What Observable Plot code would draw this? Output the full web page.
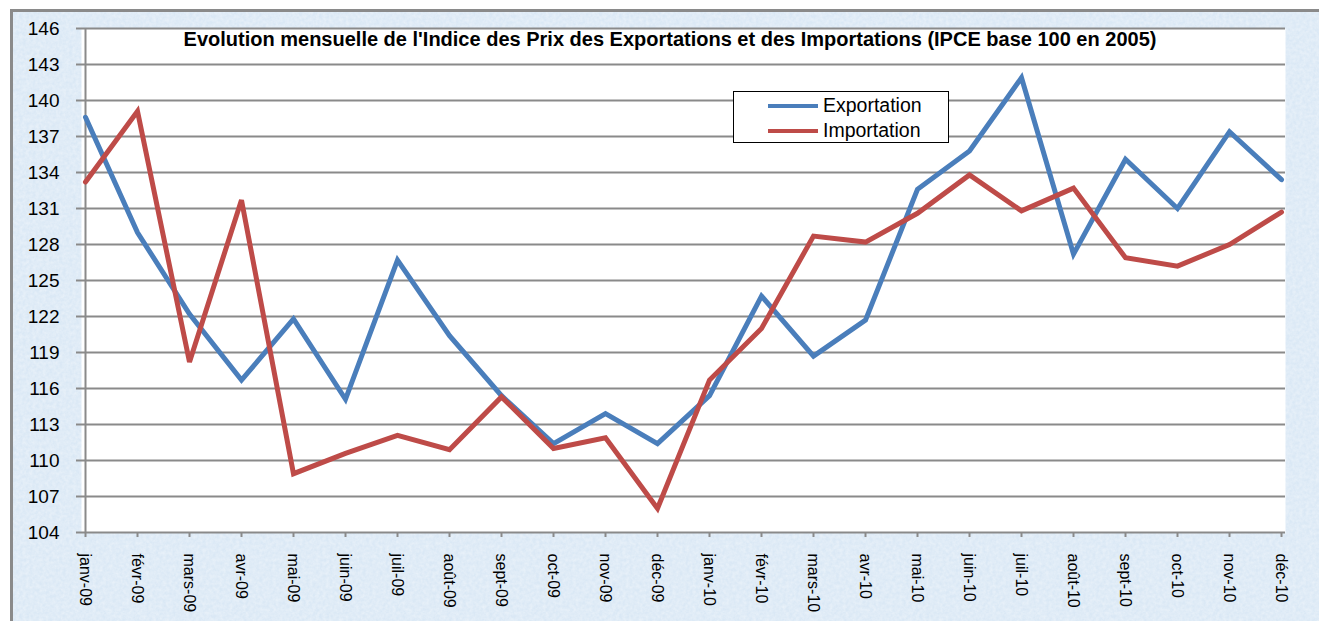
<!DOCTYPE html>
<html><head><meta charset="utf-8">
<script src="https://cdn.jsdelivr.net/npm/d3@7"></script>
<script src="https://cdn.jsdelivr.net/npm/@observablehq/plot@0.6"></script>
<style>
body{margin:0;background:#fff;font-family:"Liberation Sans",Arial,sans-serif;}
#wrap{position:relative;width:1319px;height:621px;overflow:hidden;}
#bg{position:absolute;left:10px;top:9px;right:0;bottom:0;border-top:3px solid #8a8a8a;border-left:3px solid #8a8a8a;background:#dae8f5;}
#bg::after{content:"";position:absolute;inset:0;opacity:0.45;background-image:url("data:image/svg+xml;utf8,<svg xmlns='http://www.w3.org/2000/svg' width='300' height='300'><filter id='n'><feTurbulence type='fractalNoise' baseFrequency='0.3' numOctaves='3'/><feColorMatrix values='0 0 0 0 1  0 0 0 0 1  0 0 0 0 1  0 0 0 1.3 -0.3'/></filter><rect width='300' height='300' filter='url(%23n)'/></svg>");}
#chart{position:absolute;left:0;top:0;width:1319px;height:621px;}
#chart svg{max-width:none;}
#title{position:absolute;left:0;width:1340px;top:29px;text-align:center;font-weight:bold;font-size:20px;line-height:1;color:#000;white-space:nowrap;}
#legend{position:absolute;left:733px;top:91px;width:214px;height:50px;border:1.5px solid #000;background:#fff;}
.li{position:absolute;left:34px;height:20px;font-size:19.5px;line-height:20px;color:#000;}
.li span{display:inline-block;width:50px;height:3.5px;vertical-align:middle;margin-right:5px;position:relative;top:-1px;}
</style></head><body>
<div id="wrap"><div id="bg"></div><div id="chart"></div>
<div id="title"></div>
<div id="legend"></div>
</div>
<script>
const months = ["janv-09","févr-09","mars-09","avr-09","mai-09","juin-09","juil-09","août-09","sept-09","oct-09","nov-09","déc-09",
"janv-10","févr-10","mars-10","avr-10","mai-10","juin-10","juil-10","août-10","sept-10","oct-10","nov-10","déc-10"];
const exportation = [138.6,129.0,122.2,116.7,121.8,115.1,126.7,120.4,115.4,111.4,113.9,111.4,
115.4,123.7,118.7,121.7,132.6,135.8,141.9,127.2,135.1,131.0,137.4,133.4];
const importation = [133.2,139.1,118.2,131.7,108.9,110.6,112.1,110.9,115.3,111.0,111.9,106.0,
116.7,121.0,128.7,128.2,130.6,133.8,130.8,132.7,126.9,126.2,128.0,130.7];
const yTicks = [104,107,110,113,116,119,122,125,128,131,134,137,140,143,146];
const seriesNames = ["Exportation","Importation"];
const seriesColors = ["#4a7ebb","#be4b48"];
const titleText = "Evolution mensuelle de l'Indice des Prix des Exportations et des Importations (IPCE base 100 en 2005)";

const data = [];
[exportation, importation].forEach((vals, s) => {
  vals.forEach((v, i) => data.push({month: months[i], value: v, serie: seriesNames[s]}));
});

const chart = Plot.plot({
  width: 1319, height: 621,
  marginLeft: 81, marginRight: 34, marginTop: 28, marginBottom: 89,
  style: {background: "transparent", fontFamily: "'Liberation Sans', Arial, sans-serif", overflow: "visible"},
  x: {type: "point", domain: months, padding: 0},
  y: {domain: [104, 146]},
  color: {domain: seriesNames, range: seriesColors},
  marks: [
    Plot.frame({fill: "white", stroke: null}),
    Plot.ruleY(yTicks, {stroke: "#8a8a8a", strokeWidth: 2}),
    Plot.ruleX([months[0]], {stroke: "#8a8a8a", strokeWidth: 2}),
    Plot.axisY({ticks: yTicks, tickSize: 5, tickPadding: 17, fontSize: 19, stroke: "#8a8a8a", strokeWidth: 2, fill: "#000", label: null}),
    Plot.axisX({tickRotate: 90, tickSize: 5, tickPadding: 16, fontSize: 16, stroke: "#8a8a8a", strokeWidth: 2, fill: "#000", label: null, style: "letter-spacing:-0.6px"}),
    Plot.line(data, {x: "month", y: "value", z: "serie", stroke: "serie", strokeWidth: 5, strokeLinejoin: "miter", strokeMiterlimit: 3})
  ]
});
document.getElementById("chart").appendChild(chart);
document.getElementById("title").textContent = titleText;
const leg = document.getElementById("legend");
seriesNames.forEach((n, i) => {
  const d = document.createElement("div");
  d.className = "li";
  d.style.top = (i === 0 ? 3 : 28) + "px";
  const sw = document.createElement("span");
  sw.style.background = seriesColors[i];
  d.appendChild(sw);
  d.appendChild(document.createTextNode(n));
  leg.appendChild(d);
});
</script>
</body></html>
